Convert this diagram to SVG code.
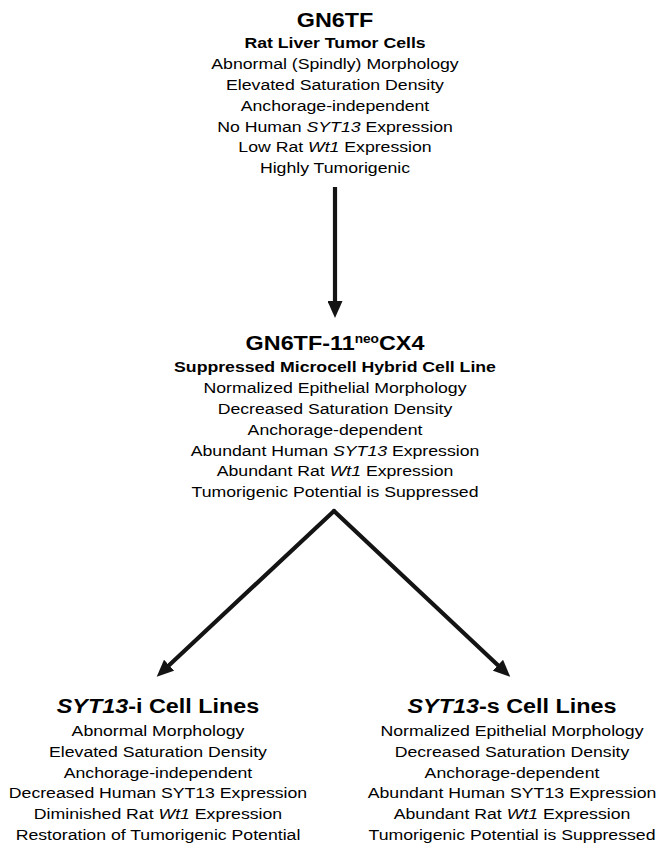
<svg xmlns="http://www.w3.org/2000/svg" width="660" height="846" viewBox="0 0 660 846">
<style>
text{font-family:"Liberation Sans",Arial,Helvetica,sans-serif;fill:#000;text-anchor:middle}
.h{font-size:20.5px;font-weight:bold}
.s{font-size:15.5px;font-weight:bold}
.b{font-size:15.5px}
.i{font-style:italic}
.sup{font-size:12px}
.edge{fill:none;stroke:#141414;stroke-width:4.2}
</style>
<defs>
<marker id="ah" viewBox="0 0 17 15" refX="7" refY="7.5" markerWidth="17" markerHeight="15" markerUnits="userSpaceOnUse" orient="auto">
<path d="M0,0 L17,7.5 L0,15 Z" fill="#141414"/>
</marker>
</defs>
<rect width="660" height="846" fill="#fff"/>
<g id="connectors">
<path class="edge" d="M335,187 L335,308" marker-end="url(#ah)"/>
<path class="edge" d="M334,511 L164,670" stroke-linecap="round" marker-end="url(#ah)"/>
<path class="edge" d="M334,511 L503,670" stroke-linecap="round" marker-end="url(#ah)"/>
</g>
<g id="n1" transform="translate(335,0) scale(1.14,1)">
<text class="h" x="0" y="27">GN6TF</text>
<text class="s" x="0" y="48">Rat Liver Tumor Cells</text>
<text class="b" x="0" y="69.5">Abnormal (Spindly) Morphology</text>
<text class="b" x="0" y="90.2">Elevated Saturation Density</text>
<text class="b" x="0" y="110.9">Anchorage-independent</text>
<text class="b" x="0" y="131.6">No Human <tspan class="i">SYT13</tspan> Expression</text>
<text class="b" x="0" y="152.3">Low Rat <tspan class="i">Wt1</tspan> Expression</text>
<text class="b" x="0" y="173">Highly Tumorigenic</text>
</g>
<g id="n2" transform="translate(335,0) scale(1.14,1)">
<text class="h" x="0" y="350">GN6TF-11<tspan class="sup" dy="-7">neo</tspan><tspan dy="7">CX4</tspan></text>
<text class="s" x="0" y="372">Suppressed Microcell Hybrid Cell Line</text>
<text class="b" x="0" y="393">Normalized Epithelial Morphology</text>
<text class="b" x="0" y="413.8">Decreased Saturation Density</text>
<text class="b" x="0" y="434.6">Anchorage-dependent</text>
<text class="b" x="0" y="455.6">Abundant Human <tspan class="i">SYT13</tspan> Expression</text>
<text class="b" x="0" y="476.4">Abundant Rat <tspan class="i">Wt1</tspan> Expression</text>
<text class="b" x="0" y="497">Tumorigenic Potential is Suppressed</text>
</g>
<g id="n3" transform="translate(158,0) scale(1.14,1)">
<text class="h" x="0" y="713"><tspan class="i">SYT13</tspan>-i Cell Lines</text>
<text class="b" x="0" y="736">Abnormal Morphology</text>
<text class="b" x="0" y="756.8">Elevated Saturation Density</text>
<text class="b" x="0" y="777.6">Anchorage-independent</text>
<text class="b" x="0" y="798.4">Decreased Human SYT13 Expression</text>
<text class="b" x="0" y="819.2">Diminished Rat <tspan class="i">Wt1</tspan> Expression</text>
<text class="b" x="0" y="840">Restoration of Tumorigenic Potential</text>
</g>
<g id="n4" transform="translate(512,0) scale(1.14,1)">
<text class="h" x="0" y="713"><tspan class="i">SYT13</tspan>-s Cell Lines</text>
<text class="b" x="0" y="736">Normalized Epithelial Morphology</text>
<text class="b" x="0" y="756.8">Decreased Saturation Density</text>
<text class="b" x="0" y="777.6">Anchorage-dependent</text>
<text class="b" x="0" y="798.4">Abundant Human SYT13 Expression</text>
<text class="b" x="0" y="819.2">Abundant Rat <tspan class="i">Wt1</tspan> Expression</text>
<text class="b" x="0" y="840">Tumorigenic Potential is Suppressed</text>
</g>
</svg>
